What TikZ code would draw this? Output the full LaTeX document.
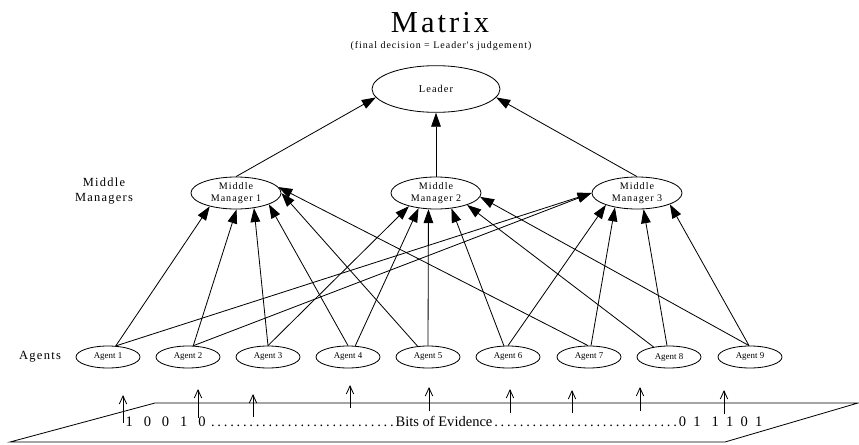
\documentclass[tikz,border=0pt]{standalone}
\usepackage{fontspec}
\setmainfont{Liberation Serif}
\newfontfamily\spaced[LetterSpace=10]{Liberation Serif}
\usetikzlibrary{arrows.meta,shapes.geometric}

\begin{document}
\begin{tikzpicture}[-{Triangle[length=4.2mm,width=2.9mm]},x=0.03cm,y=-0.03cm,line width=0.7pt]
	\tikzstyle{every node}=[draw,shape=ellipse,inner sep=0pt];
	\tikzstyle{txt}=[draw=none,shape=rectangle,align=center];
	\tikzstyle{manager}=[minimum width=2.7cm,minimum height=0.96cm,align=center,font=\spaced\fontsize{8.6}{10.5}\selectfont];
	\tikzstyle{agent}=[minimum width=1.92cm,minimum height=0.66cm,font=\fontsize{7.6}{9}\selectfont];
	\tikzstyle{bit}=[-{Straight Barb[length=2.4mm,width=2.2mm]}];

    \useasboundingbox (0,0) rectangle (859,445);

    \node[txt,font=\spaced\fontsize{26}{30}\selectfont] at (440,23) (title) {Matrix};
    \node[txt,font=\spaced\fontsize{8.5}{10}\selectfont] at (441,46) (subtitle) {(final decision = Leader's judgement)};

    \node at (436,89) (leader) [minimum width=3.84cm,minimum height=1.4cm,font=\spaced\fontsize{8.9}{10}\selectfont] {Leader};

    \node[txt,font=\spaced\fontsize{10.6}{13}\selectfont] at (104,191) (mmlabel) {Middle\\Managers};
    \node at (236,193) (m1) [manager] {Middle\\Manager 1};
    \node at (436,193) (m2) [manager] {Middle\\Manager 2};
    \node at (637,193) (m3) [manager] {Middle\\Manager 3};

    \node[txt,font=\spaced\fontsize{10.7}{13}\selectfont] at (40,357) (aglabel) {Agents};
    \node at (108,357) (a1) [agent] {Agent 1};
    \node at (188,357) (a2) [agent] {Agent 2};
    \node at (268,357) (a3) [agent] {Agent 3};
    \node at (348,357) (a4) [agent] {Agent 4};
    \node at (428,357) (a5) [agent] {Agent 5};
    \node at (508,357) (a6) [agent] {Agent 6};
    \node at (589,357) (a7) [agent] {Agent 7};
    \node at (669,357) (a8) [agent] {Agent 8};
    \node at (750,357) (a9) [agent] {Agent 9};

    % managers report to the leader
    \draw (m1.north) to (leader.-172);
    \draw (m2.north) to (leader.south);
    \draw (m3.north) to (leader.-8);

    % agents report to managers
    \draw (a1.55) to (m1.-153);
    \draw (a1.55) to (m3.180);
    \draw (a2.65) to (m1.-88);
    \draw (a2.65) to (m3.180);
    \draw (a3.north) to (m1.-40);
    \draw (a3.north) to (m2.-154);
    \draw (a4.north) to (m1.-19);
    \draw (a4.57) to (m2.-139);
    \draw (a5.134) to (m1.0);
    \draw (a5.north) to (m2.-115);
    \draw (a6.110) to (m2.-45);
    \draw (a6.north) to (m3.-159);
    \draw (a7.95) to (m1.8);
    \draw (a7.80) to (m3.-147);
    \draw (a8.147) to (m2.-21);
    \draw (a8.100) to (m3.-68);
    \draw (a9.95) to (m2.-5);
    \draw (a9.95) to (m3.-19);

    % evidence plane
    \draw[-] (10,442) -- (155,403) -- (858,403) -- (725,442) -- cycle;
    \node[txt,font=\fontsize{12.4}{14}\selectfont] at (444,421) (bits) {\hbox to 19.1cm{1~~~0~~~0~~~1~~~0\ \dotfill Bits of Evidence\dotfill 0~~1~~~1~~1~~0~~1}};

    \coordinate (e1) at (123,423); \coordinate (u1) at (123,395);
    \coordinate (e2) at (198,418); \coordinate (u2) at (198,389);
    \coordinate (e3) at (253,417); \coordinate (u3) at (253,394);
    \coordinate (e4) at (350,408); \coordinate (u4) at (350,385);
    \coordinate (e5) at (429,411); \coordinate (u5) at (429,387);
    \coordinate (e6) at (510,413); \coordinate (u6) at (510,389);
    \coordinate (e7) at (572,413); \coordinate (u7) at (572,390);
    \coordinate (e8) at (640,411); \coordinate (u8) at (640,387);
    \coordinate (e9) at (724,414); \coordinate (u9) at (724,390);

    \draw[bit] (e1) to (u1);
    \draw[bit] (e2) to (u2);
    \draw[bit] (e3) to (u3);
    \draw[bit] (e4) to (u4);
    \draw[bit] (e5) to (u5);
    \draw[bit] (e6) to (u6);
    \draw[bit] (e7) to (u7);
    \draw[bit] (e8) to (u8);
    \draw[bit] (e9) to (u9);
\end{tikzpicture}
\end{document}
